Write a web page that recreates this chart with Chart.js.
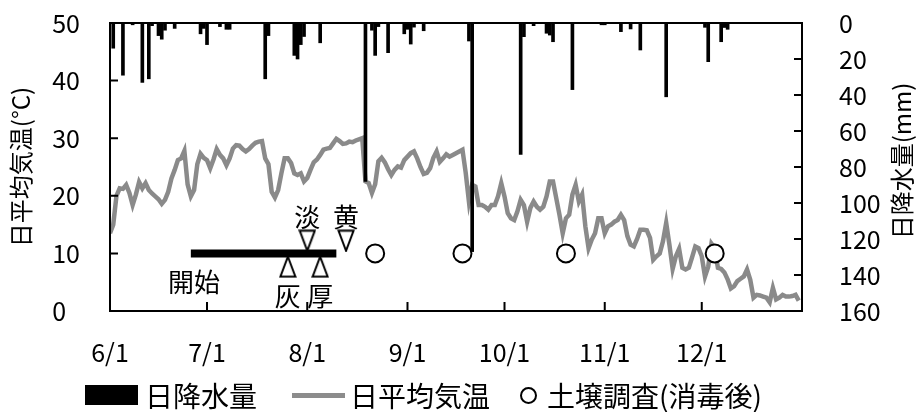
<!DOCTYPE html>
<html>
<head>
<meta charset="utf-8">
<script src="https://cdn.jsdelivr.net/npm/chart.js@4.4.0/dist/chart.umd.min.js"></script>
<style>
  html, body { margin: 0; padding: 0; background: #fff; }
  #wrap { position: relative; width: 920px; height: 412px; }
  #legend {
    position: absolute; left: 85px; top: 377px; height: 36px;
    display: flex; align-items: center;
    font-family: "Noto Sans CJK JP", sans-serif; font-size: 28px; color: #000;
  }
  .sw-bar { width: 53px; height: 20px; background: #000; margin-right: 7px; }
  .sw-line { width: 53px; height: 5px; background: #8c8c8c; margin: 0 5px 0 35px; }
  .sw-circ { width: 13px; height: 13px; border: 2px solid #000; border-radius: 50%; margin: 0 10px 0 30px; }
</style>
</head>
<body>
<div id="wrap">
  <canvas id="chart" width="920" height="412"></canvas>
  <div id="legend">
    <span class="sw-bar"></span><span>日降水量</span>
    <span class="sw-line"></span><span>日平均気温</span>
    <span class="sw-circ"></span><span>土壌調査(消毒後)</span>
  </div>
</div>
<script>
// month tick labels and offsets (days since 6/1)
var monthLabels = ["6/1", "7/1", "8/1", "9/1", "10/1", "11/1", "12/1"];
var monthStart = { 6: 0, 7: 30, 8: 61, 9: 92, 10: 122, 11: 153, 12: 183 };

// daily mean air temperature (°C), one array per month
var tempJun = [13.5, 15, 20, 21.3, 21.2, 21.9, 20.5, 18.4, 20.2, 22.4, 21.3, 22.2, 21, 20.4, 19.9,
  19.4, 18.6, 19.3, 20.7, 23, 24.5, 26.2, 26.5, 27.8, 22, 19.9, 21, 25.5, 27.3, 26.6];
var tempJul = [26.2, 24.8, 26.3, 28.1, 27.1, 26.5, 25.3, 26.5, 28.2, 28.8, 28.7, 28.1, 27.7, 28.1, 28.7,
  29.2, 29.4, 29.5, 26.5, 25.5, 20.7, 19.7, 21, 23.9, 26.5, 26.5, 25.7, 23.9, 23.6, 23.9, 22.5];
var tempAug = [23.1, 24.5, 25.8, 26.3, 27.1, 28, 28.2, 28.3, 29.1, 29.9, 29.5, 29, 29.1, 29.4, 29.3,
  29.6, 29.8, 30, 22.5, 22.2, 20.5, 22, 26, 26.6, 25.8, 24.6, 23.6, 24.5, 25.1, 24.9, 26.2];
var tempSep = [26.8, 27.4, 27.7, 26.5, 25, 23.8, 24, 24.8, 26.6, 27.7, 25.9, 26.5, 27.2, 26.8, 27.1,
  27.4, 27.7, 28, 24, 19, 21.9, 21.6, 18.4, 18.4, 18.1, 17.6, 18.4, 18.4, 19.9, 22.2];
var tempOct = [19.9, 17, 16.1, 15.8, 17.3, 19.3, 18.4, 15.5, 17.9, 19, 18.1, 17.6, 18.1, 19.9, 22.5,
  22.5, 19.6, 16.7, 13.5, 16.1, 16.7, 20.2, 21.9, 19, 20.2, 14.7, 10.9, 12.4, 13.5, 16.1, 16.1];
var tempNov = [13.5, 14.7, 15, 15.5, 15.8, 16.7, 15.8, 13, 11.5, 11.2, 12.5, 14.1, 14.1, 14, 12.7,
  8.9, 9.5, 10, 12.1, 15.3, 11.5, 7.3, 9.5, 10.8, 7.5, 7.2, 7.5, 9.3, 11.2, 10.9];
var tempDec = [9.5, 6, 7.7, 11.7, 10.9, 7.5, 7.3, 6.7, 5.5, 3.9, 4.3, 5.2, 5.6, 6, 7.2,
  5.4, 2.3, 2.8, 2.7, 2.5, 2.3, 1.5, 4, 2, 2.3, 2.8, 2.5, 2.5, 2.6, 2.8, 1.8];

// daily precipitation (mm), rainy days only
var rainDates = ["6/2", "6/5", "6/8", "6/11", "6/13", "6/14", "6/16", "6/17", "6/18", "6/21",
  "6/29", "6/30", "7/1", "7/5", "7/7", "7/8", "7/19", "7/20", "7/28", "7/29", "7/30", "7/31",
  "8/5", "8/19", "8/21", "8/22", "8/23", "8/26", "8/31", "9/1", "9/2", "9/3", "9/6",
  "9/20", "9/21", "10/6", "10/7", "10/10", "10/14", "10/15", "10/16", "10/22", "10/31",
  "11/1", "11/6", "11/9", "11/12", "11/20", "12/2", "12/3", "12/7", "12/8", "12/9"];
var rainMm = [14, 29, 1, 33, 31, 1.5, 7, 9, 4, 3,
  6, 3, 12, 2, 3.5, 3.5, 31, 7, 18, 20, 12, 7.5,
  11, 88, 4, 18, 2, 16.5, 6, 3.5, 11.7, 2.3, 4.3,
  10, 127, 73, 7.6, 1.5, 5.7, 6.7, 10.4, 37, 1,
  1, 4.8, 3.3, 15, 41, 2.4, 21.5, 10.4, 2.5, 3.5];

// treatment period and events
var periodDates = ["6/26", "8/10"];
var periodLevel = 10;
var upMarkDates = ["7/26", "8/5"];      // 灰, 厚
var upMarkLevel = 7.7;
var downMarkDates = ["8/1", "8/13"];    // 淡, 黄
var downMarkLevel = 12.2;
var surveyDates = ["8/22", "9/18", "10/20", "12/5"];
var surveyLevel = 10;
var noteTexts = ["開始", "灰", "厚", "淡", "黄"];
var noteDates = ["6/27", "7/26", "8/5", "8/1", "8/13"];
var noteLevels = [5, 2.6, 2.6, 16.3, 16.3];

var tempDaily = tempJun.concat(tempJul, tempAug, tempSep, tempOct, tempNov, tempDec);

function dayOf(md) {
  var p = md.split("/");
  return monthStart[+p[0]] + (+p[1]) - 1;
}

function makeTriangle(up) {
  var c = document.createElement("canvas");
  c.width = 18; c.height = 23;
  var g = c.getContext("2d");
  g.beginPath();
  if (up) { g.moveTo(9, 1.5); g.lineTo(16.5, 21.5); g.lineTo(1.5, 21.5); }
  else { g.moveTo(1.5, 1.5); g.lineTo(16.5, 1.5); g.lineTo(9, 21.5); }
  g.closePath();
  g.fillStyle = "#fff"; g.fill();
  g.lineWidth = 2; g.strokeStyle = "#000"; g.stroke();
  return c;
}

var FONT = "'Noto Sans CJK JP', sans-serif";

function noVerticalPad(s) {
  s.paddingTop = 0;
  s.paddingBottom = 0;
}

var framePlugin = {
  id: "frame",
  afterDatasetsDraw: function (chart) {
    var ctx = chart.ctx, a = chart.chartArea;
    var sx = chart.scales.x, sy = chart.scales.y, sy2 = chart.scales.y2;
    ctx.save();
    ctx.strokeStyle = "#000";
    ctx.lineWidth = 2;
    ctx.strokeRect(a.left, a.top, a.right - a.left, a.bottom - a.top);
    ctx.beginPath();
    sy.ticks.forEach(function (t) {
      var y = sy.getPixelForValue(t.value);
      ctx.moveTo(a.left, y); ctx.lineTo(a.left + 8, y);
    });
    sy2.ticks.forEach(function (t) {
      var y = sy2.getPixelForValue(t.value);
      ctx.moveTo(a.right, y); ctx.lineTo(a.right - 8, y);
    });
    sx.ticks.forEach(function (t) {
      var x = sx.getPixelForValue(t.value);
      ctx.moveTo(x, a.bottom); ctx.lineTo(x, a.bottom - 9);
    });
    ctx.stroke();

    // annotation texts
    ctx.fillStyle = "#000";
    ctx.font = "26px " + FONT;
    ctx.textAlign = "center";
    ctx.textBaseline = "middle";
    noteTexts.forEach(function (txt, i) {
      ctx.fillText(txt, sx.getPixelForValue(dayOf(noteDates[i])), sy.getPixelForValue(noteLevels[i]));
    });

    // right axis title, reading bottom to top
    ctx.font = "24px " + FONT;
    ctx.translate(902, (a.top + a.bottom) / 2 - 6);
    ctx.rotate(-Math.PI / 2);
    ctx.fillText("日降水量(mm)", 0, 0);
    ctx.restore();
  }
};

new Chart(document.getElementById("chart"), {
  data: {
    datasets: [
      {
        type: "scatter",
        data: surveyDates.map(function (d) { return { x: dayOf(d), y: surveyLevel }; }),
        yAxisID: "y",
        pointStyle: "circle",
        pointRadius: 9,
        backgroundColor: "#fff",
        borderColor: "#000",
        borderWidth: 2,
        order: 0
      },
      {
        type: "scatter",
        data: upMarkDates.map(function (d) { return { x: dayOf(d), y: upMarkLevel }; }),
        yAxisID: "y",
        pointStyle: makeTriangle(true),
        order: 0
      },
      {
        type: "scatter",
        data: downMarkDates.map(function (d) { return { x: dayOf(d), y: downMarkLevel }; }),
        yAxisID: "y",
        pointStyle: makeTriangle(false),
        order: 0
      },
      {
        type: "line",
        data: periodDates.map(function (d) { return { x: dayOf(d), y: periodLevel }; }),
        yAxisID: "y",
        borderColor: "#000",
        borderWidth: 8,
        pointRadius: 0,
        borderCapStyle: "butt",
        order: 1
      },
      {
        type: "bar",
        data: rainDates.map(function (d, i) { return { x: dayOf(d), y: rainMm[i] }; }),
        yAxisID: "y2",
        backgroundColor: "#000",
        barThickness: 3,
        order: 1
      },
      {
        type: "line",
        data: tempDaily.map(function (t, i) { return { x: i, y: t }; }),
        yAxisID: "y",
        borderColor: "#8a8a8a",
        borderWidth: 4.5,
        pointRadius: 0,
        tension: 0,
        order: 2
      }
    ]
  },
  options: {
    responsive: false,
    animation: false,
    layout: { padding: { top: 23, left: 0, right: 0, bottom: 0 } },
    plugins: { legend: { display: false }, tooltip: { enabled: false } },
    scales: {
      x: {
        type: "linear",
        position: "bottom",
        offset: false,
        min: 0,
        max: 214,
        afterBuildTicks: function (s) {
          s.ticks = monthLabels.map(function (m) { return { value: dayOf(m) }; });
        },
        afterFit: function (s) { s.height = 101; s.paddingLeft = 0; s.paddingRight = 0; },
        grid: { display: false, offset: false },
        border: { display: false },
        ticks: {
          autoSkip: false,
          maxRotation: 0,
          padding: 18,
          color: "#000",
          font: { family: FONT, size: 25 },
          callback: function (v, i) { return monthLabels[i]; }
        }
      },
      y: {
        position: "left",
        min: 0,
        max: 50,
        afterFit: function (s) { s.width = 110; noVerticalPad(s); },
        grid: { display: false },
        border: { display: false },
        ticks: {
          stepSize: 10,
          padding: 22,
          color: "#000",
          font: { family: FONT, size: 25 },
          // single digit sits in the first column, like the original
          callback: function (v) { return v < 10 ? v + "\u2007" : String(v); }
        },
        title: {
          display: true,
          text: "日平均気温(°C)",
          color: "#000",
          font: { family: FONT, size: 24 },
          padding: { top: 6, bottom: 0 }
        }
      },
      y2: {
        position: "right",
        min: 0,
        max: 160,
        reverse: true,
        afterFit: function (s) { s.width = 118; noVerticalPad(s); },
        grid: { display: false },
        border: { display: false },
        ticks: { stepSize: 20, padding: 29, color: "#000", font: { family: FONT, size: 25 } }
      }
    }
  },
  plugins: [framePlugin]
});
</script>
</body>
</html>
